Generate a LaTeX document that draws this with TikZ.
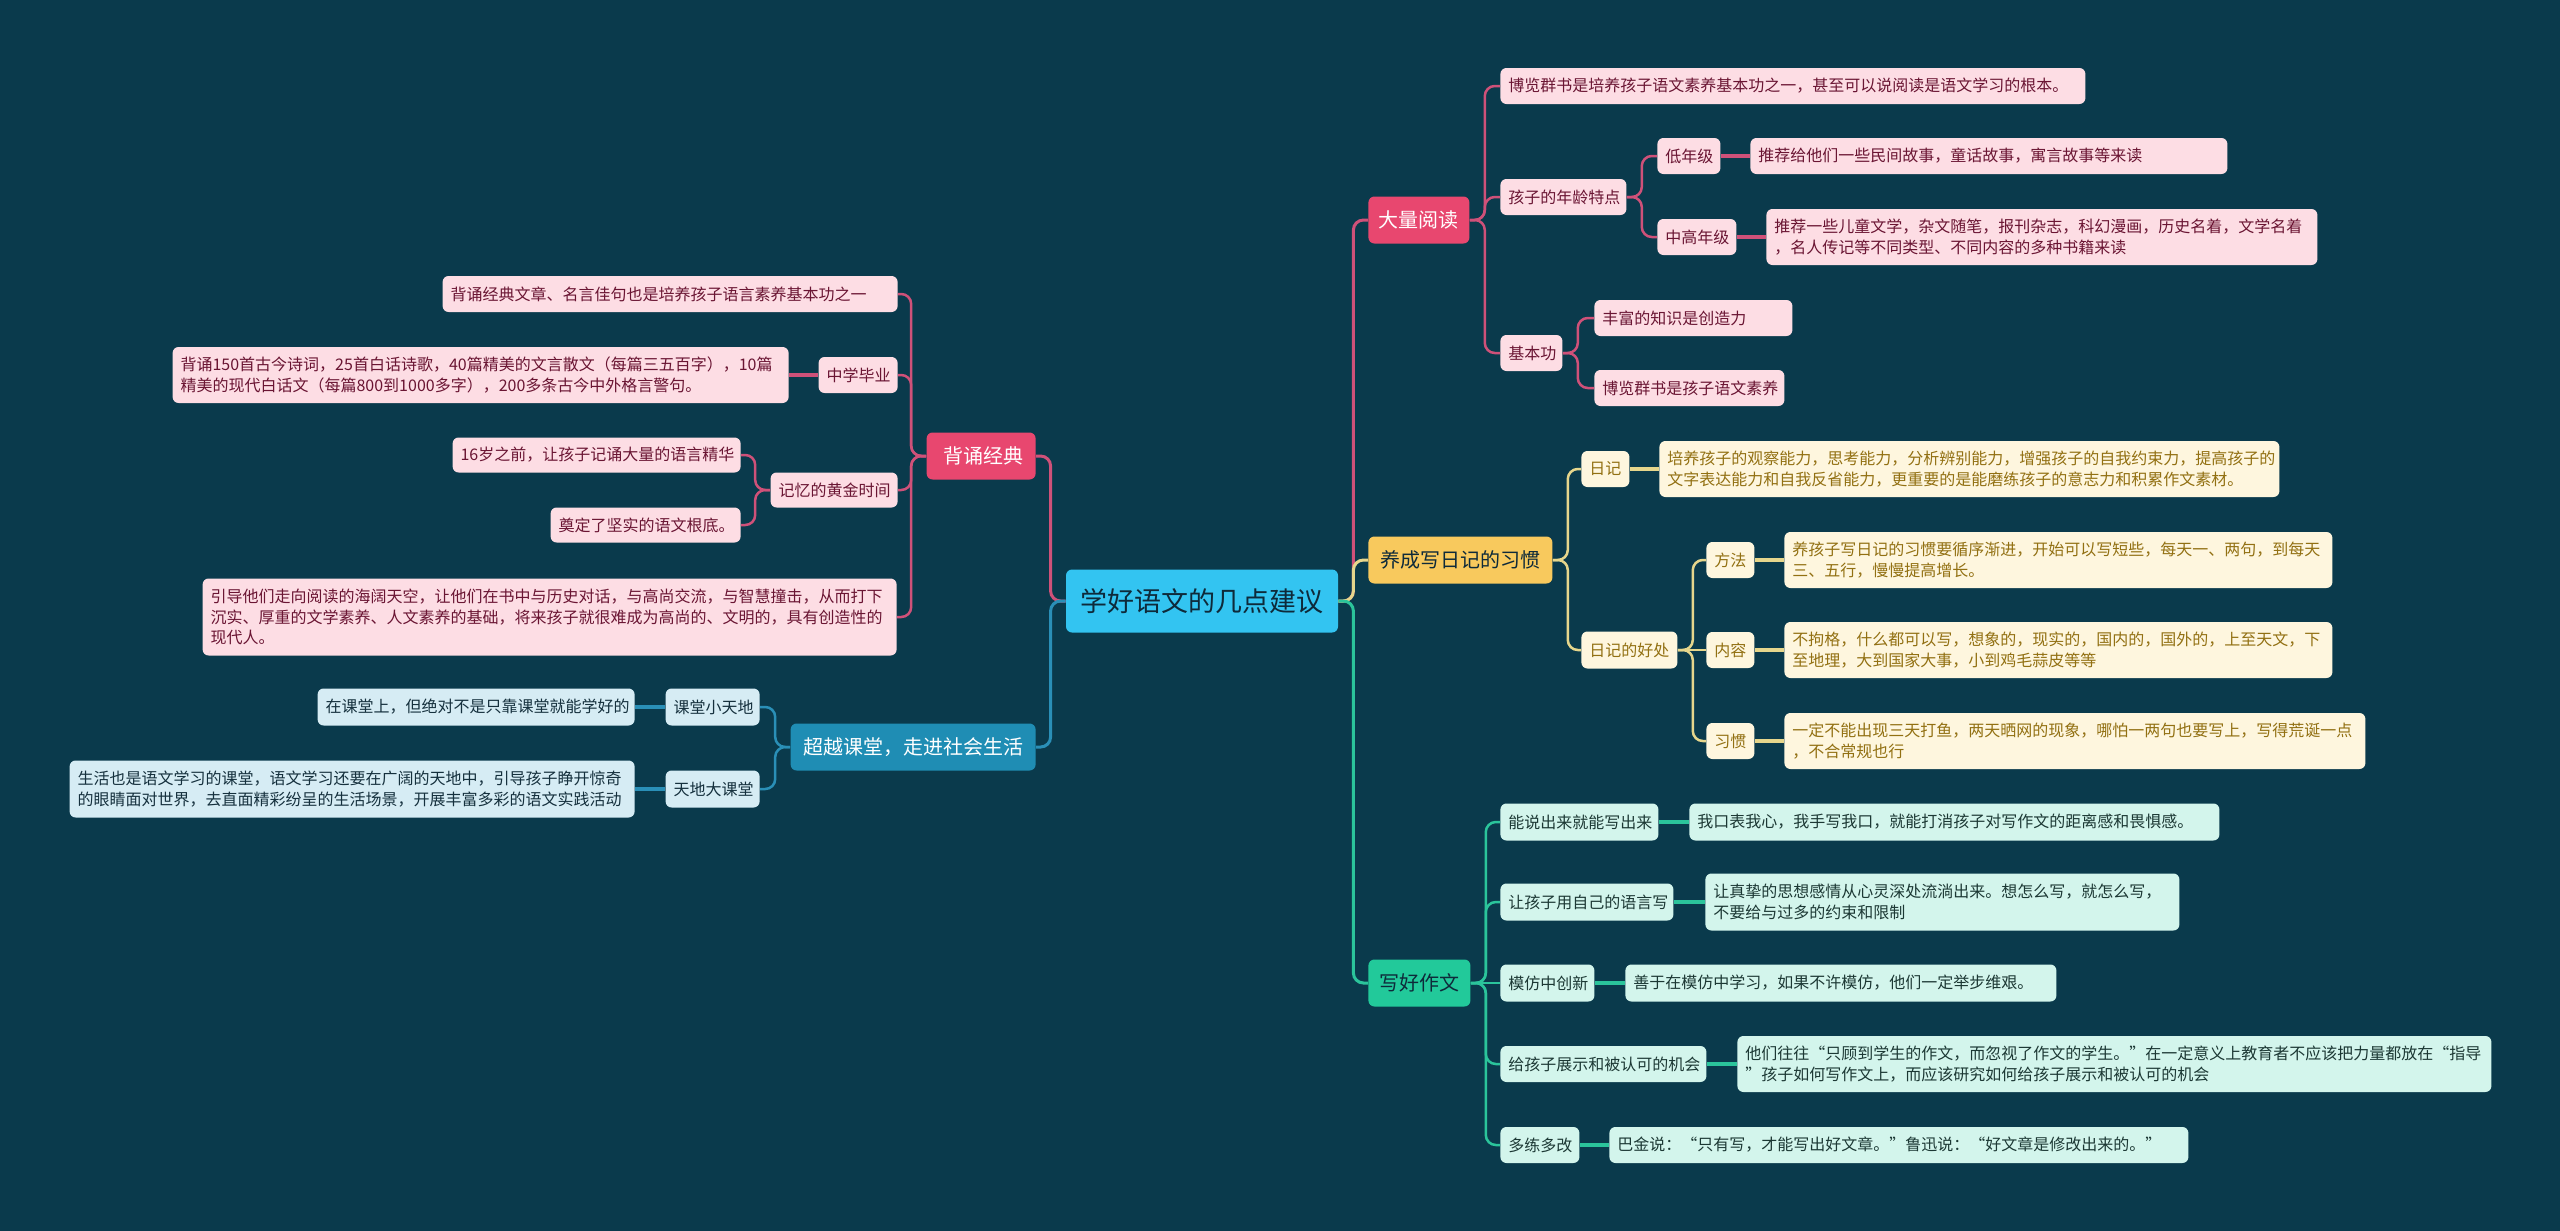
\documentclass[tikz,border=0pt]{standalone}
\usepackage{fontspec}
\setmainfont{Noto Sans CJK SC}
\usetikzlibrary{calc}
\definecolor{bg}{HTML}{0A3A4C}
\definecolor{rootF}{HTML}{33C4F1}
\definecolor{rootT}{HTML}{0E2A3A}
\definecolor{pinkM}{HTML}{E8476F}
\definecolor{pinkL}{HTML}{FDDDE4}
\definecolor{pinkT}{HTML}{6A1533}
\definecolor{pinkLine}{HTML}{CF5179}
\definecolor{yelM}{HTML}{F8C95D}
\definecolor{yelL}{HTML}{FEF6DE}
\definecolor{yelT}{HTML}{927012}
\definecolor{yelLine}{HTML}{E6D68C}
\definecolor{grnM}{HTML}{22C99A}
\definecolor{grnL}{HTML}{D3F5EC}
\definecolor{grnT}{HTML}{1C3834}
\definecolor{grnLine}{HTML}{2BC49B}
\definecolor{bluM}{HTML}{1F8DB4}
\definecolor{bluL}{HTML}{D6ECF4}
\definecolor{bluT}{HTML}{15303D}
\definecolor{bluLine}{HTML}{2A8FB7}
\newcommand\cR[3][]{\draw[#1] (#2.east) -- ++(15,0) |- (#3.west);}
\newcommand\cL[3][]{\draw[#1] (#2.west) -- ++(-15,0) |- (#3.east);}
\newcommand\cSR[3][]{\draw[#1] (#2.east) -- (#3.west);}
\newcommand\cSL[3][]{\draw[#1] (#2.west) -- (#3.east);}
\begin{document}
\begin{tikzpicture}[x=0.5pt,y=-0.5pt,
  sz/.style 2 args={minimum width=#1*0.5pt, minimum height=#2*0.5pt},
  lsz/.style 2 args={text width=(#1-16)*0.5pt, minimum height=#2*0.5pt, inner xsep=4pt},
  base/.style={rounded corners=3pt, inner sep=0pt, align=left},
  rootn/.style={base, fill=rootF, text=rootT, font=\fontsize{13.5pt}{16pt}\selectfont},
  mainf/.style={base, font=\fontsize{10pt}{12pt}\selectfont},
  mP/.style={mainf, fill=pinkM, text=white},
  mY/.style={mainf, fill=yelM, text=rootT},
  mG/.style={mainf, fill=grnM, text=rootT},
  mB/.style={mainf, fill=bluM, text=white},
  leaff/.style={base, font=\fontsize{8pt}{10.2pt}\selectfont},
  lP/.style={leaff, fill=pinkL, text=pinkT},
  lY/.style={leaff, fill=yelL, text=yelT},
  lG/.style={leaff, fill=grnL, text=grnT},
  lB/.style={leaff, fill=bluL, text=bluT},
  lk/.style={line width=1.25pt, rounded corners=5pt},
  top/.style={line width=1.5pt},
  cp/.style={lk, draw=pinkLine},
  cy/.style={lk, draw=yelLine},
  cg/.style={lk, draw=grnLine},
  cb/.style={lk, draw=bluLine},
  st/.style={line width=1.7pt}
]
\fill[bg] (0,0) rectangle (2560,1231);
\useasboundingbox (0,0) rectangle (2560,1231);

% root
\node[rootn, sz={272}{63}] (root) at (1202,601) {学好语文的几点建议};

% main branches
\node[mP, sz={101}{47}, anchor=west] (dl) at (1368,220) {大量阅读};
\node[mY, sz={184}{47}, anchor=west] (yc) at (1368,560) {养成写日记的习惯};
\node[mG, sz={102}{47}, anchor=west] (xh) at (1368,983) {写好作文};
\node[mP, minimum height=23.5pt, text width=45.5pt, inner xsep=4.5pt, anchor=east] (bs) at (1036,456) {\hspace*{4pt}背诵经典};
\node[mB, sz={245}{47}, anchor=east] (cyk) at (1036,747) {超越课堂，走进社会生活};

% 大量阅读
\node[lP, lsz={585}{36}, anchor=west] (d1) at (1500,86) {博览群书是培养孩子语文素养基本功之一，甚至可以说阅读是语文学习的根本。};
\node[lP, lsz={126}{36}, anchor=west] (d2) at (1500,197) {孩子的年龄特点};
\node[lP, lsz={63}{36}, anchor=west] (d21) at (1657,156) {低年级};
\node[lP, lsz={477}{36}, anchor=west] (d21a) at (1750,156) {推荐给他们一些民间故事，童话故事，寓言故事等来读};
\node[lP, lsz={79}{36}, anchor=west] (d22) at (1657,237) {中高年级};
\node[lP, lsz={551}{56}, anchor=west] (d22a) at (1766,237) {推荐一些儿童文学，杂文随笔，报刊杂志，科幻漫画，历史名着，文学名着\\，名人传记等不同类型、不同内容的多种书籍来读};
\node[lP, lsz={62}{36}, anchor=west] (d3) at (1500,353) {基本功};
\node[lP, lsz={198}{36}, anchor=west] (d31) at (1594,318) {丰富的知识是创造力};
\node[lP, lsz={190}{36}, anchor=west] (d32) at (1594,388) {博览群书是孩子语文素养};

% 养成写日记的习惯
\node[lY, lsz={48}{36}, anchor=west] (y1) at (1581,469) {日记};
\node[lY, lsz={620}{56}, anchor=west] (y1a) at (1659,469) {培养孩子的观察能力，思考能力，分析辨别能力，增强孩子的自我约束力，提高孩子的\\文字表达能力和自我反省能力，更重要的是能磨练孩子的意志力和积累作文素材。};
\node[lY, lsz={96}{37}, anchor=west] (y2) at (1581,650) {日记的好处};
\node[lY, lsz={48}{36}, anchor=west] (y21) at (1706,560) {方法};
\node[lY, lsz={548}{56}, anchor=west] (y21a) at (1784,560) {养孩子写日记的习惯要循序渐进，开始可以写短些，每天一、两句，到每天\\三、五行，慢慢提高增长。};
\node[lY, lsz={48}{36}, anchor=west] (y22) at (1706,650) {内容};
\node[lY, lsz={548}{56}, anchor=west] (y22a) at (1784,650) {不拘格，什么都可以写，想象的，现实的，国内的，国外的，上至天文，下\\至地理，大到国家大事，小到鸡毛蒜皮等等};
\node[lY, lsz={48}{36}, anchor=west] (y23) at (1706,741) {习惯};
\node[lY, lsz={581}{56}, anchor=west] (y23a) at (1784,741) {一定不能出现三天打鱼，两天晒网的现象，哪怕一两句也要写上，写得荒诞一点\\，不合常规也行};

% 写好作文
\node[lG, lsz={158}{37}, anchor=west] (g1) at (1500,822) {能说出来就能写出来};
\node[lG, lsz={530}{37}, anchor=west] (g1a) at (1689,822) {我口表我心，我手写我口，就能打消孩子对写作文的距离感和畏惧感。};
\node[lG, lsz={173}{37}, anchor=west] (g2) at (1500,902) {让孩子用自己的语言写};
\node[lG, lsz={474}{57}, anchor=west] (g2a) at (1705,902) {让真挚的思想感情从心灵深处流淌出来。想怎么写，就怎么写，\\不要给与过多的约束和限制};
\node[lG, lsz={94}{37}, anchor=west] (g3) at (1500,983) {模仿中创新};
\node[lG, lsz={431}{37}, anchor=west] (g3a) at (1625,983) {善于在模仿中学习，如果不许模仿，他们一定举步维艰。};
\node[lG, lsz={206}{36}, anchor=west] (g4) at (1500,1064) {给孩子展示和被认可的机会};
\node[lG, lsz={754}{56}, anchor=west] (g4a) at (1737,1064) {他们往往“只顾到学生的作文，而忽视了作文的学生。”在一定意义上教育者不应该把力量都放在“指导\\”孩子如何写作文上，而应该研究如何给孩子展示和被认可的机会};
\node[lG, lsz={79}{36}, anchor=west] (g5) at (1500,1145) {多练多改};
\node[lG, lsz={579}{36}, anchor=west] (g5a) at (1609,1145) {巴金说：“只有写，才能写出好文章。”鲁迅说：“好文章是修改出来的。”};

% 背诵经典
\node[lP, lsz={455}{36}, anchor=east] (b1) at (898,294) {背诵经典文章、名言佳句也是培养孩子语言素养基本功之一};
\node[lP, lsz={79}{36}, anchor=east] (b2) at (898,375) {中学毕业};
\node[lP, lsz={616}{56}, anchor=east] (b2a) at (789,375) {背诵150首古今诗词，25首白话诗歌，40篇精美的文言散文（每篇三五百字），10篇\\精美的现代白话文（每篇800到1000多字），200多条古今中外格言警句。};
\node[lP, lsz={127}{35}, anchor=east] (b3) at (898,490) {记忆的黄金时间};
\node[lP, lsz={288}{35}, anchor=east] (b31) at (741,455) {16岁之前，让孩子记诵大量的语言精华};
\node[lP, lsz={190}{35}, anchor=east] (b32) at (741,525) {奠定了坚实的语文根底。};
\node[lP, lsz={694}{77}, anchor=east] (b4) at (897,617) {引导他们走向阅读的海阔天空，让他们在书中与历史对话，与高尚交流，与智慧撞击，从而打下\\沉实、厚重的文学素养、人文素养的基础，将来孩子就很难成为高尚的、文明的，具有创造性的\\现代人。};

% 超越课堂
\node[lB, lsz={94}{37}, anchor=east] (c1) at (760,707) {课堂小天地};
\node[lB, lsz={317}{37}, anchor=east] (c1a) at (635,707) {在课堂上，但绝对不是只靠课堂就能学好的};
\node[lB, lsz={94}{37}, anchor=east] (c2) at (760,789) {天地大课堂};
\node[lB, lsz={565}{57}, anchor=east] (c2a) at (635,789) {生活也是语文学习的课堂，语文学习还要在广阔的天地中，引导孩子睁开惊奇\\的眼睛面对世界，去直面精彩纷呈的生活场景，开展丰富多彩的语文实践活动};

% connectors: root
\cR[cp,top]{root}{dl}
\cR[cy,top]{root}{yc}
\cR[cg,top]{root}{xh}
\cL[cp,top]{root}{bs}
\cL[cb,top]{root}{cyk}

% 大量阅读
\cR[cp]{dl}{d1}
\cR[cp]{dl}{d2}
\cR[cp]{dl}{d3}
\cR[cp]{d2}{d21}
\cR[cp]{d2}{d22}
\cSR[cp,st]{d21}{d21a}
\cSR[cp,st]{d22}{d22a}
\cR[cp]{d3}{d31}
\cR[cp]{d3}{d32}

% 养成写日记
\cR[cy]{yc}{y1}
\cR[cy]{yc}{y2}
\cSR[cy,st]{y1}{y1a}
\cR[cy]{y2}{y21}
\cSR[cy]{y2}{y22}
\cR[cy]{y2}{y23}
\cSR[cy,st]{y21}{y21a}
\cSR[cy,st]{y22}{y22a}
\cSR[cy,st]{y23}{y23a}

% 写好作文
\cR[cg]{xh}{g1}
\cR[cg]{xh}{g2}
\cSR[cg]{xh}{g3}
\cR[cg]{xh}{g4}
\cR[cg]{xh}{g5}
\cSR[cg,st]{g1}{g1a}
\cSR[cg,st]{g2}{g2a}
\cSR[cg,st]{g3}{g3a}
\cSR[cg,st]{g4}{g4a}
\cSR[cg,st]{g5}{g5a}

% 背诵经典
\cL[cp]{bs}{b1}
\cL[cp]{bs}{b2}
\cL[cp]{bs}{b3}
\cL[cp]{bs}{b4}
\cSL[cp,st]{b2}{b2a}
\cL[cp]{b3}{b31}
\cL[cp]{b3}{b32}

% 超越课堂
\cL[cb]{cyk}{c1}
\cL[cb]{cyk}{c2}
\cSL[cb,st]{c1}{c1a}
\cSL[cb,st]{c2}{c2a}
\end{tikzpicture}
\end{document}
